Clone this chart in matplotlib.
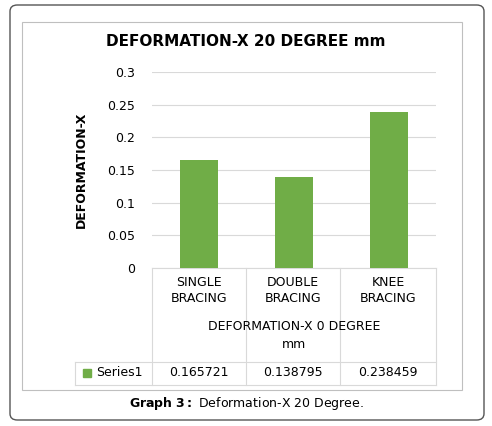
import matplotlib.pyplot as plt
from matplotlib.patches import FancyBboxPatch, Rectangle
from matplotlib.lines import Line2D

categories = ["SINGLE\nBRACING", "DOUBLE\nBRACING", "KNEE\nBRACING"]
values = [0.165721, 0.138795, 0.238459]
value_labels = ["0.165721", "0.138795", "0.238459"]
yticks = [0, 0.05, 0.1, 0.15, 0.2, 0.25, 0.3]
ytick_labels = ["0", "0.05", "0.1", "0.15", "0.2", "0.25", "0.3"]

W, H = 492, 426
green = "#70AD47"
grid = "#D9D9D9"
fs = 9

fig = plt.figure(figsize=(W / 100, H / 100), dpi=100)

def fx(x):
    return x / W

def fy(y):
    return 1 - y / H

# outer rounded frame
fig.patches.append(FancyBboxPatch((fx(10), fy(420)), fx(474), 415 / H,
                                  boxstyle="round,pad=0,rounding_size=0.015",
                                  transform=fig.transFigure, fill=False,
                                  ec="#555555", lw=1))
# chart area
fig.patches.append(Rectangle((fx(22), fy(390)), fx(440), 368 / H,
                             transform=fig.transFigure, fill=False, ec="#BFBFBF", lw=0.8))

ax = fig.add_axes([fx(152), fy(268), fx(284), 196 / H])
x = list(range(len(values)))
ax.bar(x, values, width=0.4, color=green, zorder=3)
ax.set_xlim(-0.5, 2.5)
ax.set_ylim(0, 0.3)
ax.set_yticks(yticks)
ax.set_yticklabels(ytick_labels, fontsize=fs)
ax.set_xticks([])
ax.grid(axis="y", color=grid, lw=0.8, zorder=0)
for s in ["top", "right", "left"]:
    ax.spines[s].set_visible(False)
ax.spines["bottom"].set_color(grid)
ax.tick_params(axis="y", length=0, pad=12)
ax.set_ylabel("DEFORMATION-X", fontsize=fs, fontweight="bold", labelpad=14)

fig.text(0.5, fy(42), "DEFORMATION-X 20 DEGREE mm", ha="center", va="center",
         fontsize=11, fontweight="bold")

# data table lines
cols = [152, 246, 340, 436]
def line(x0, y0, x1, y1):
    fig.add_artist(Line2D([fx(x0), fx(x1)], [fy(y0), fy(y1)], color=grid, lw=0.8))

for c in cols:
    line(c, 268, c, 385)
line(75, 362, 436, 362)
line(75, 385, 436, 385)
line(75, 362, 75, 385)

for i, c in enumerate(categories):
    fig.text(fx((cols[i] + cols[i + 1]) / 2), fy(290), c, ha="center", va="center",
             fontsize=fs, linespacing=1.3)
    fig.text(fx((cols[i] + cols[i + 1]) / 2), fy(373), value_labels[i], ha="center",
             va="center", fontsize=fs)
fig.text(fx(294), fy(336), "DEFORMATION-X 0 DEGREE\nmm", ha="center", va="center",
         fontsize=fs, linespacing=1.5)
fig.patches.append(Rectangle((fx(83), fy(377)), fx(8), 8 / H,
                             transform=fig.transFigure, color=green))
fig.text(fx(96), fy(373), "Series1", ha="left", va="center", fontsize=fs)

fig.text(0.5, fy(404), r"$\bf{Graph\ 3:}$ Deformation-X 20 Degree.", ha="center",
         va="center", fontsize=9)

fig.savefig("out.png", dpi=100)
